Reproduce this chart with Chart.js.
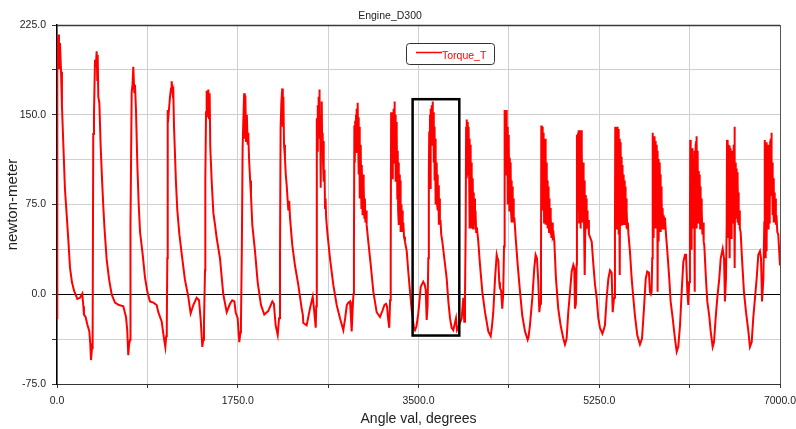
<!DOCTYPE html>
<html><head><meta charset="utf-8">
<script src="https://cdn.jsdelivr.net/npm/chart.js@4.4.0/dist/chart.umd.min.js"></script>
<style>html,body{margin:0;padding:0;background:#fff;}#wrap{width:796px;height:429px;}</style>
</head><body><div id="wrap"><canvas id="c" width="796" height="429"></canvas></div>
<script>
const chartTitle = 'Engine_D300';
const seriesName = 'Torque_T';
const xTitle = 'Angle val, degrees';
const yTitle = 'newton-meter';
const xTickLabels = ['0.0','1750.0','3500.0','5250.0','7000.0'];
const yTickLabels = ['-75.0','0.0','75.0','150.0','225.0'];
const boxAngle = [3443, 3895];
const boxTorque = [-34.5, 163];

const angle = [
0,2,4,13,19,29,39,48,61,77,94,110,126,145,165,183,197,223,245,255,261,277,293,313,322,329,339,345,
351,358,368,376,384,390,394,400,410,423,436,448,460,481,505,529,561,600,642,668,680,690,698,707,
710,713,723,731,739,748,755,765,778,791,804,830,852,875,900,933,965,981,1014,1036,1049,1057,1063,
1068,1072,1080,1094,1104,1110,1120,1126,1133,1152,1165,1185,1207,1239,1271,1294,1320,1352,1375,1391,1407,1416,1423,
1433,1436,1443,1449,1455,1465,1472,1478,1484,1498,1514,1530,1546,1578,1610,1643,1675,1697,1717,1730,1749,1765,1775,1781,
1790,1797,1804,1812,1818,1824,1830,1838,1846,1852,1859,1870,1878,1891,1917,1943,1975,2007,2046,2085,2100,2117,2137,2150,
2159,2165,2172,2181,2186,2192,2198,2207,2215,2224,2232,2240,2248,2256,2278,2304,2336,2369,2380,2385,2417,2449,2476,2488,2505,2510,
2514,2517,2521,2525,2529,2533,2537,2540,2544,2548,2553,2558,2563,2568,2572,2576,2580,2585,2590,2595,2600,2606,2617,2643,2675,2708,2740,2772,2790,2806,2820,2837,2845,2853,2865,2870,
2875,2879,2883,2887,2891,2895,2899,2903,2907,2911,2915,2919,2923,2927,2931,2935,2939,2943,2947,2951,2955,2959,2963,2967,2971,2976,2981,2986,2992,2998,3014,3037,3063,3095,3127,3150,3170,3185,3195,3205,3217,3225,
3231,3235,3239,3243,3247,3251,3255,3259,3263,3267,3271,3275,3279,3283,3287,3291,3295,3299,3303,3307,3311,3315,3319,3323,3327,3331,3336,3341,3347,3353,3360,3369,3386,3401,3418,3434,3456,3466,3480,3498,3510,3521,3546,3560,3570,3579,3588,
3595,3600,3604,3608,3612,3616,3620,3624,3628,3632,3636,3640,3644,3648,3652,3656,3660,3664,3668,3672,3676,3680,3684,3688,3692,3697,3702,3707,3713,3720,3731,3750,3773,3789,3805,3821,3837,3850,3863,3873,3885,3895,3910,3918,3934,3943,3950,
3957,3961,3965,3969,3973,3977,3981,3985,3989,3993,3997,4001,4005,4009,4013,4017,4021,4025,4029,4033,4037,4042,4047,4052,4058,4065,4079,4095,4118,4144,4176,4199,4210,4224,4241,4257,4265,4273,4282,4289,4300,4311,4320,
4328,4332,4336,4340,4344,4348,4352,4356,4360,4364,4368,4372,4376,4380,4384,4388,4392,4396,4400,4404,4408,4412,4417,4422,4428,4441,4460,4483,4505,4531,4557,4565,4579,4602,4621,4634,4647,4660,4670,4678,
4686,4689,4692,4695,4698,4701,4704,4707,4710,4713,4716,4719,4722,4725,4728,4731,4734,4737,4740,4743,4746,4749,4752,4755,4758,4761,4764,4767,4770,4774,4778,4782,4787,4793,4800,4808,4815,4831,4853,4876,4902,4918,4934,4950,4967,4983,4999,5008,5015,5024,
5031,5034,5037,5040,5043,5046,5049,5052,5055,5058,5061,5064,5067,5070,5073,5076,5079,5082,5085,5088,5091,5094,5097,5100,5103,5106,5109,5112,5115,5118,5121,5124,5128,5132,5137,5143,5150,5160,5177,5193,5209,5225,5241,5257,5280,5292,5305,5322,5338,5354,5370,5380,5393,
5402,5405,5408,5411,5414,5417,5420,5423,5426,5429,5432,5435,5438,5441,5444,5447,5450,5453,5456,5459,5462,5465,5468,5471,5474,5477,5480,5483,5486,5489,5492,5495,5498,5501,5505,5509,5513,5517,5522,5527,5533,5547,5564,5580,5596,5618,5644,5664,5683,5700,5715,5731,5741,5750,5757,
5763,5766,5769,5772,5775,5778,5781,5784,5787,5790,5793,5796,5799,5802,5805,5808,5811,5814,5816,5819,5822,5825,5828,5831,5834,5837,5840,5843,5846,5849,5852,5855,5859,5863,5868,5874,5880,5886,5896,5909,5928,5941,5961,5983,6000,6015,6032,6048,6064,6080,6090,6103,6112,6120,
6128,6131,6134,6137,6140,6143,6146,6149,6152,6155,6158,6161,6164,6167,6170,6173,6176,6179,6182,6185,6188,6191,6194,6197,6200,6203,6206,6209,6212,6215,6218,6221,6224,6227,6230,6233,6236,6240,6244,6249,6255,6261,6267,6283,6296,6315,6329,6348,6361,6377,6393,6412,6426,6445,6458,6467,6477,
6484,6487,6490,6493,6496,6499,6502,6505,6508,6511,6514,6517,6520,6523,6526,6529,6532,6535,6538,6541,6544,6547,6550,6553,6556,6558,6561,6564,6567,6570,6573,6576,6579,6582,6585,6588,6591,6594,6598,6602,6606,6611,6619,6632,6651,6671,6690,6709,6726,6741,6758,6774,6790,6806,6816,6826,6839,
6848,6851,6854,6857,6860,6863,6866,6869,6872,6875,6878,6881,6884,6887,6890,6893,6896,6899,6902,6905,6908,6911,6914,6917,6920,6923,6926,6929,6932,6935,6938,6941,6944,6947,6951,6955,6960,6966,6974,6983,6993,7000
];
const torque = [
-20,112,187,217,188,210,186,157,126,88,66,45,22,10,3,-1,-4,-3,0.5,-10,-17,-19,-25,-31,-41,-55,-45,-38,
134,150,196,190,203,179,200,165,160,123,96,74,55,29,12,0,-7,-9,-10,-19,-30,-51,-42,-38,
20,58,169,175,190,169,175,153,108,75,52,33,14,2,-6,-7,-9,-15,-23,-37,-44,-35,-28,
30,154,150,165,172,178,168,170,140,93,70,50,34,12,-2,-16,-9,-3,-5,-21,-44,-38,-25,
20,95,152,170,148,171,147,168,123,94,68,58,47,30,0,-15,-8,-5,-6,-15,-20,-40,-32,-25,
41,122,145,168,130,166,128,150,125,135,114,95,83,58,36,10,-9,-17,-14,-6,-8,-26,-34,-20,
30,139,160,172,140,165,125,114,100,91,80,70,78,64,41,24,8,-12,-17,-24,-26,-12,-2,-12,-28,-10,
0,147,120,158,135,165,140,171,130,150,89,150,161,118,135,110,128,94,104,72,80,64,52,30,8,-9,-20,-30,-20,-9,-7,-6,-18,-31,-8,0,
40,141,110,145,125,150,118,155,128,160,130,148,100,140,80,125,95,118,72,108,80,66,100,75,91,64,80,60,70,58,44,25,2,-15,-19,-14,-9,-8,-10,-20,-28,-5,
30,152,120,150,97,140,110,155,120,161,125,150,94,144,100,135,80,120,70,110,58,100,70,95,52,75,60,70,52,60,48,44,36,19,2,-13,-28,-30,-27,-16,-5,6,10.5,8,3.5,-21.5,-10,
30,100,136,110,150,88,155,125,158,130,161,140,152,110,140,95,130,75,114,85,110,75,100,70,91,58,80,58,62,50,44,30,13,-6,-20,-28,-30,-25,-20,-30,-28,-25,-22,-20,-3,-23,-5,
58,140,97,146,110,144,100,140,114,130,55,125,80,110,55,100,70,97,55,85,60,80,58,70,52,56,44,25,2,-15,-31,-35,-28,-15,13,33,30,28,10,5,3,-12,0,
40,69,154,110,150,100,154,120,140,75,133,90,125,70,114,80,110,69,95,60,90,66,80,60,64,47,25,2,-18,-31,-38,-36,-26,-3,22,33,30,10,-15,-8,
24,141,75,138,80,140,70,135,91,130,60,125,85,130,58,118,75,110,58,100,70,95,55,90,62,85,52,80,58,72,50,64,47,60,48,50,44,13,-12,-26,-37,-42,-37,-15,2,19,24.5,22,-12,-8,
25,133,100,134,70,135,90,137,60,130,85,137,55,125,80,137,70,120,90,108,60,110,75,99,58,95,66,16,55,83,62,80,58,70,55,62,50,48,44,25,8,-3,-20,-28,-33,-30,-26,-3,13,20,18,-15,-3,
55,140,70,138,55,140,80,135,60,140,90,132,50,138,75,130,16,127,70,120,58,115,75,108,60,105,69,100,58,99,65,95,58,90,60,80,55,70,55,60,50,36,13,-3,-18,-34,-42,-37,-12,13,19,18,2,0,2,
30,55,135,80,130,47,132,70,130,90,128,55,126,75,125,60,120,80,2,113,70,113,44,110,75,108,60,100,52,90,65,80,55,72,58,66,55,64,50,36,13,-6,-20,-37,-48,-44,-26,2,27,33,33,2,-9,10,
60,129,75,125,38,122,80,122,60,118,92,114,55,114,80,2,120,90,126,70,128,55,132,80,120,69,110,60,103,75,100,66,95,55,90,66,80,55,70,50,60,44,41,13,-6,-18,-31,-44,-40,-20,-3,13,30,38,30,-6,13,
60,129,90,127,47,125,80,125,60,124,30,122,80,122,47,120,75,119,60,119,90,115,69,125,80,140,70,22,110,75,110,64,105,70,102,60,95,69,85,58,70,55,52,30,2,-15,-28,-44,-40,-20,-3,13,33,36,30,-6,13,
60,129,70,127,30,125,80,127,36,122,75,118,55,120,80,125,60,125,69,128,90,130,83,135,90,110,66,97,75,97,60,90,66,85,60,80,58,66,52,50,35,24
];

const points = angle.map((a, i) => ({x: a, y: torque[i]}));

const framePlugin = {
  id: 'frame',
  afterDatasetsDraw(chart) {
    const {ctx, chartArea: ca, scales: {x, y}} = chart;
    ctx.save();
    ctx.strokeStyle = '#3a3a3a';
    ctx.lineWidth = 1.5;
    ctx.beginPath();
    ctx.moveTo(ca.left, ca.top + 0.5);
    ctx.lineTo(ca.right, ca.top + 0.5);
    ctx.stroke();
    ctx.strokeStyle = '#555';
    ctx.lineWidth = 1;
    ctx.beginPath();
    ctx.moveTo(ca.right + 0.5, ca.top);
    ctx.lineTo(ca.right + 0.5, ca.bottom);
    ctx.stroke();
    const x1 = x.getPixelForValue(boxAngle[0]);
    const x2 = x.getPixelForValue(boxAngle[1]);
    const y1 = y.getPixelForValue(boxTorque[1]);
    const y2 = y.getPixelForValue(boxTorque[0]);
    ctx.strokeStyle = '#000';
    ctx.lineWidth = 2.5;
    ctx.strokeRect(x1, y1, x2 - x1, y2 - y1);
    const lx = 406.5, ly = 43.5, lw = 88, lh = 21, r = 3;
    ctx.fillStyle = '#fff';
    ctx.strokeStyle = '#333';
    ctx.lineWidth = 1;
    ctx.beginPath();
    ctx.moveTo(lx + r, ly);
    ctx.lineTo(lx + lw - r, ly);
    ctx.quadraticCurveTo(lx + lw, ly, lx + lw, ly + r);
    ctx.lineTo(lx + lw, ly + lh - r);
    ctx.quadraticCurveTo(lx + lw, ly + lh, lx + lw - r, ly + lh);
    ctx.lineTo(lx + r, ly + lh);
    ctx.quadraticCurveTo(lx, ly + lh, lx, ly + lh - r);
    ctx.lineTo(lx, ly + r);
    ctx.quadraticCurveTo(lx, ly, lx + r, ly);
    ctx.closePath();
    ctx.fill();
    ctx.stroke();
    ctx.strokeStyle = '#ff0000';
    ctx.lineWidth = 1.5;
    ctx.beginPath();
    ctx.moveTo(416, 52.5);
    ctx.lineTo(442, 52.5);
    ctx.stroke();
    ctx.fillStyle = '#ff0000';
    ctx.font = '10.5px "Liberation Sans", Arial, sans-serif';
    ctx.textBaseline = 'middle';
    ctx.textAlign = 'left';
    ctx.fillText(seriesName, 442, 56);
    ctx.restore();
  }
};

new Chart(document.getElementById('c'), {
  type: 'line',
  data: {
    datasets: [{
      label: seriesName,
      data: points,
      borderColor: '#ff0000',
      borderWidth: 2,
      pointRadius: 0,
      fill: false,
      tension: 0
    }]
  },
  options: {
    responsive: false,
    animation: false,
    devicePixelRatio: 1,
    layout: {padding: {left: 0, right: 16, top: 0, bottom: 0}},
    plugins: {
      legend: {display: false},
      tooltip: {enabled: false},
      title: {
        display: true,
        text: chartTitle,
        color: '#222',
        font: {family: '"Liberation Sans", Arial, sans-serif', size: 10.5, weight: 'normal'},
        padding: {top: 10, bottom: 2.4}
      }
    },
    scales: {
      x: {
        type: 'linear',
        min: 0, max: 7000,
        afterFit(s) { s.height = 45; s.paddingLeft = 0; s.paddingRight = 0; },
        ticks: {
          stepSize: 875, autoSkip: false, maxRotation: 0, padding: 7,
          color: '#222',
          font: {family: '"Liberation Sans", Arial, sans-serif', size: 10.5},
          callback: (v) => { const i = xTickLabels.indexOf(Number(v).toFixed(1)); return i >= 0 ? xTickLabels[i] : ''; }
        },
        grid: {color: '#d0d0d0', lineWidth: 1, tickLength: 4, tickColor: '#333'},
        border: {color: '#333', width: 1},
        title: {
          display: true, text: xTitle, color: '#222',
          font: {family: '"Liberation Sans", Arial, sans-serif', size: 14},
          padding: {top: 0, bottom: 1}
        }
      },
      y: {
        min: -75, max: 225,
        afterFit(s) { s.width = 57; },
        ticks: {
          stepSize: 37.5, autoSkip: false, padding: 6,
          color: '#222',
          font: {family: '"Liberation Sans", Arial, sans-serif', size: 10.5},
          callback: (v) => { const i = yTickLabels.indexOf(Number(v).toFixed(1)); return i >= 0 ? yTickLabels[i] : ''; }
        },
        grid: {
          color: (c) => (c.tick && c.tick.value === 0) ? '#000' : '#d0d0d0',
          lineWidth: 1,
          tickLength: 5, tickColor: '#333'
        },
        border: {color: '#000', width: 1.5},
        title: {
          display: true, text: yTitle, color: '#222',
          font: {family: '"Liberation Sans", Arial, sans-serif', size: 15},
          padding: {top: 4, bottom: 0}
        }
      }
    }
  },
  plugins: [framePlugin]
});
</script>
</body></html>
